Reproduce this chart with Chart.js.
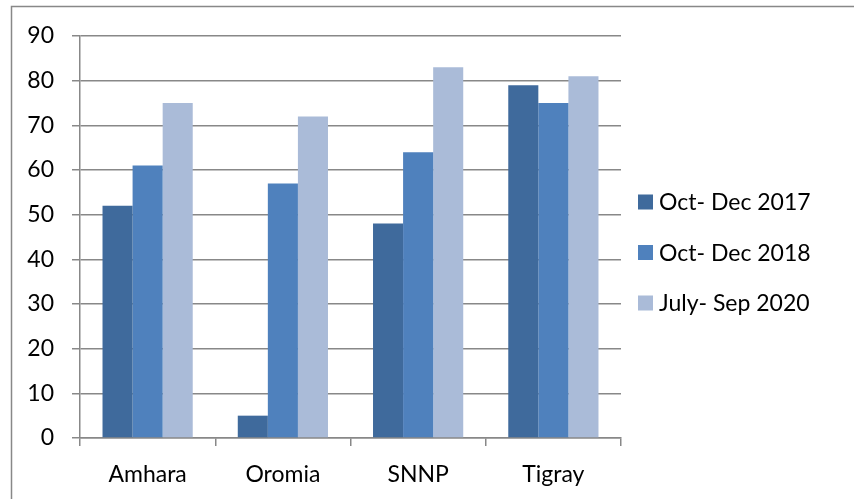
<!DOCTYPE html>
<html>
<head>
<meta charset="utf-8">
<script src="https://cdn.jsdelivr.net/npm/chart.js@4/dist/chart.umd.min.js"></script>
<style>
  html, body { margin: 0; padding: 0; background: #ffffff; }
  #wrap { width: 854px; height: 499px; position: relative; }
</style>
</head>
<body>
<div id="wrap"><canvas id="c" width="854" height="499"></canvas></div>
<script>
// Regions and survey rounds
const regions = ['Amhara', 'Oromia', 'SNNP', 'Tigray'];
const seriesNames = ['Oct- Dec 2017', 'Oct- Dec 2018', 'July- Sep 2020'];
const octDec2017 = [52, 5, 48, 79];
const octDec2018 = [61, 57, 64, 75];
const julySep2020 = [75, 72, 83, 81];
const yMin = 0, yMax = 90, yStep = 10;

const seriesColors = ['#3f6a9c', '#4f81bd', '#aabbd8'];
const FONT = 'Lato, "Open Sans", sans-serif';
const gridGrey = '#888888';

// Outer frame and legend drawn after the chart
const frameAndLegend = {
  id: 'frameAndLegend',
  afterDraw(chart) {
    const ctx = chart.ctx;
    ctx.save();
    ctx.strokeStyle = gridGrey;
    ctx.lineWidth = 1.5;
    ctx.beginPath();
    ctx.moveTo(11.5, chart.height);
    ctx.lineTo(11.5, 6.5);
    ctx.lineTo(chart.width, 6.5);
    ctx.stroke();

    ctx.font = '23px ' + FONT;
    ctx.textBaseline = 'middle';
    ctx.textAlign = 'left';
    chart.data.datasets.forEach((ds, i) => {
      const cy = 202 + i * 50.5;
      ctx.fillStyle = ds.backgroundColor;
      ctx.fillRect(638, cy - 7.5, 15, 15);
      ctx.fillStyle = '#000000';
      ctx.fillText(ds.label, 659, cy + 1);
    });
    ctx.restore();
  }
};

new Chart(document.getElementById('c'), {
  type: 'bar',
  data: {
    labels: regions,
    datasets: [
      { label: seriesNames[0], data: octDec2017, backgroundColor: seriesColors[0] },
      { label: seriesNames[1], data: octDec2018, backgroundColor: seriesColors[1] },
      { label: seriesNames[2], data: julySep2020, backgroundColor: seriesColors[2] }
    ]
  },
  options: {
    responsive: false,
    animation: false,
    devicePixelRatio: 1,
    layout: { padding: { left: 0, top: 36, right: 233, bottom: 0 } },
    datasets: { bar: { categoryPercentage: 0.667, barPercentage: 1.0, borderWidth: 0 } },
    plugins: {
      legend: { display: false },
      tooltip: { enabled: false }
    },
    scales: {
      x: {
        offset: true,
        grid: {
          offset: true,
          drawOnChartArea: false,
          drawTicks: true,
          tickLength: 8,
          color: gridGrey,
          lineWidth: 1.5
        },
        border: { display: true, color: gridGrey, width: 1.5 },
        ticks: { color: '#000000', font: { family: FONT, size: 23 }, padding: 15, maxRotation: 0 },
        afterFit(scale) { scale.height = 61; }
      },
      y: {
        min: yMin,
        max: yMax,
        ticks: { stepSize: yStep, color: '#000000', font: { family: FONT, size: 23 }, padding: 18 },
        grid: { color: gridGrey, lineWidth: 1.5, tickLength: 8, drawTicks: true },
        border: { display: true, color: gridGrey, width: 1.5 },
        afterFit(scale) { scale.width = 80; }
      }
    }
  },
  plugins: [frameAndLegend]
});
</script>
</body>
</html>
